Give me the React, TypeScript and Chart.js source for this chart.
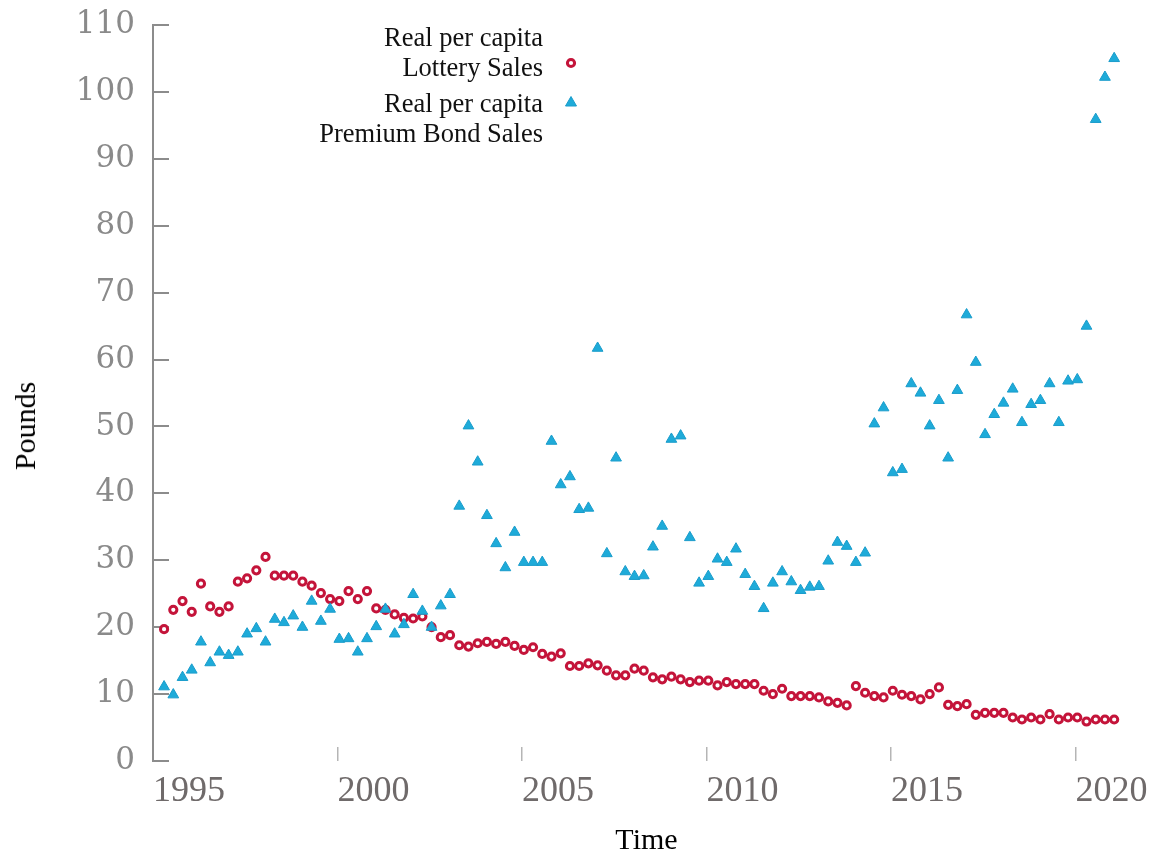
import React, { useEffect, useRef } from "react";
import { Chart, registerables } from "chart.js";

Chart.register(...registerables);

// Time axis: quarterly observations
const FIRST_QUARTER = 1995.3;
const QUARTER_STEP = 0.25;
const X_MIN = 1995;
const X_MAX = 2021.75;
const YEAR_TICKS = [1995, 2000, 2005, 2010, 2015, 2020];
const Y_TICK_STEP = 10;
const Y_MIN = 0;
const Y_MAX = 110;

// Real per capita Lottery Sales (pounds)
const lotterySales = [
  19.7, 22.6, 23.9, 22.3, 26.5, 23.1, 22.3, 23.1, 26.8, 27.3, 28.5, 30.5, 27.7, 27.7, 27.7, 26.8,
  26.2, 25.1, 24.2, 23.9, 25.4, 24.2, 25.4, 22.8, 22.6, 21.9, 21.4, 21.3, 21.6, 20.0, 18.5, 18.8,
  17.3, 17.1, 17.6, 17.8, 17.5, 17.8, 17.2, 16.6, 17.0, 16.0, 15.6, 16.1, 14.2, 14.2, 14.6, 14.3,
  13.5, 12.8, 12.8, 13.8, 13.5, 12.5, 12.2, 12.6, 12.2, 11.8, 12.0, 12.0, 11.3, 11.8, 11.5, 11.5,
  11.5, 10.5, 10.0, 10.8, 9.7, 9.7, 9.7, 9.5, 8.9, 8.7, 8.3, 11.2, 10.2, 9.7, 9.5, 10.5,
  9.9, 9.7, 9.2, 10.0, 11.0, 8.4, 8.2, 8.5, 6.9, 7.2, 7.2, 7.2, 6.5, 6.2, 6.5, 6.2,
  7.0, 6.2, 6.5, 6.5, 5.9, 6.2, 6.2, 6.2,
];

// Real per capita Premium Bond Sales (pounds)
const premiumBondSales = [
  11.1, 9.9, 12.5, 13.6, 17.8, 14.7, 16.3, 15.8, 16.3, 19.0, 19.8, 17.8, 21.2, 20.7, 21.7, 20.0,
  23.9, 20.9, 22.7, 18.2, 18.3, 16.3, 18.3, 20.1, 22.7, 19.0, 20.4, 24.9, 22.4, 20.0, 23.2, 24.9,
  38.1, 50.1, 44.7, 36.7, 32.5, 28.9, 34.2, 29.7, 29.7, 29.7, 47.8, 41.3, 42.5, 37.6, 37.8, 61.7,
  31.0, 45.3, 28.3, 27.6, 27.7, 32.0, 35.1, 48.1, 48.6, 33.4, 26.6, 27.6, 30.2, 29.7, 31.7, 27.9,
  26.1, 22.8, 26.6, 28.3, 26.8, 25.5, 26.0, 26.1, 29.9, 32.7, 32.1, 29.7, 31.1, 50.4, 52.8, 43.1,
  43.6, 56.4, 55.0, 50.1, 53.9, 45.3, 55.4, 66.7, 59.6, 48.8, 51.8, 53.5, 55.6, 50.6, 53.3, 53.9,
  56.4, 50.6, 56.8, 57.0, 65.0, 95.9, 102.2, 105.0,
];

const LOTTERY_LABEL = ["Real per capita", "Lottery Sales"];
const BOND_LABEL = ["Real per capita", "Premium Bond Sales"];
const X_TITLE = "Time";
const Y_TITLE = "Pounds";

const RED = "#c4143a";
const BLUE = "#1eabd9";
const BLUE_EDGE = "#1a9ccb";

const quarterTimes = lotterySales.map((_, i) => FIRST_QUARTER + i * QUARTER_STEP);

export default function App() {
  const canvasRef = useRef<HTMLCanvasElement | null>(null);

  useEffect(() => {
    const canvas = canvasRef.current;
    if (!canvas) return;
    const chart = new Chart(canvas, {
      type: "scatter",
      data: {
        datasets: [
          {
            label: LOTTERY_LABEL.join(" "),
            data: lotterySales.map((v, i) => ({ x: quarterTimes[i], y: v })),
            pointStyle: "circle",
            pointRadius: 3.6,
            pointBorderWidth: 3,
            borderColor: RED,
            backgroundColor: "#ffffff",
            pointBorderColor: RED,
            pointBackgroundColor: "#ffffff",
            order: 2,
          },
          {
            label: BOND_LABEL.join(" "),
            data: premiumBondSales.map((v, i) => ({ x: quarterTimes[i], y: v })),
            pointStyle: "triangle",
            pointRadius: 6.2,
            pointBorderWidth: 1,
            borderColor: BLUE_EDGE,
            backgroundColor: BLUE,
            pointBorderColor: BLUE_EDGE,
            pointBackgroundColor: BLUE,
            order: 1,
          },
        ],
      },
      options: {
        responsive: false,
        animation: false,
        events: [],
        layout: {
          autoPadding: false,
          padding: { left: 0, top: 25, right: 20, bottom: 0 },
        },
        plugins: {
          legend: { display: false },
          tooltip: { enabled: false },
          title: { display: false },
        },
        scales: {
          x: {
            type: "linear",
            min: X_MIN,
            max: X_MAX,
            afterBuildTicks: (scale: any) => {
              scale.ticks = YEAR_TICKS.map((v) => ({ value: v }));
            },
            afterFit: (scale: any) => {
              scale.height = 94;
              scale.paddingLeft = 0;
              scale.paddingRight = 0;
            },
            border: { display: false },
            grid: {
              display: true,
              drawOnChartArea: false,
              drawTicks: true,
              tickLength: -14,
              color: "#b5b5b5",
              lineWidth: 1.5,
            },
            ticks: {
              align: "start",
              padding: 23,
              autoSkip: false,
              maxRotation: 0,
              color: "#6f6a6a",
              font: { family: "'Liberation Serif', 'Times New Roman', serif", size: 36 },
              callback: (v: any) => String(v),
            },
            title: {
              display: true,
              text: X_TITLE,
              color: "#000000",
              font: { family: "'Liberation Serif', 'Times New Roman', serif", size: 30 },
              padding: { top: 0, bottom: -4 },
            },
          },
          y: {
            type: "linear",
            min: Y_MIN,
            max: Y_MAX,
            afterFit: (scale: any) => {
              scale.width = 153;
              scale.paddingTop = 0;
              scale.paddingBottom = 0;
            },
            border: { display: true, color: "#8c8c8c", width: 2 },
            grid: {
              display: true,
              drawOnChartArea: false,
              drawTicks: true,
              tickLength: -16,
              color: "#8c8c8c",
              lineWidth: 2,
            },
            ticks: {
              stepSize: Y_TICK_STEP,
              padding: 34,
              color: "#8a8a8a",
              font: { family: "'DejaVu Serif', serif", size: 31 },
            },
            title: { display: false },
          },
        },
      },
    });
    return () => chart.destroy();
  }, []);

  const legendFont: React.CSSProperties = {
    position: "absolute",
    right: 1160 - 543,
    fontFamily: "'Liberation Serif', 'Times New Roman', serif",
    fontSize: 26.5,
    lineHeight: "26px",
    color: "#111111",
    whiteSpace: "nowrap",
    textAlign: "right",
  };

  return (
    <div style={{ position: "absolute", left: 0, top: 0, width: 1160, height: 855, background: "#ffffff" }}>
      <canvas ref={canvasRef} width={1160} height={855} style={{ width: 1160, height: 855, display: "block" }} />
      <div
        style={{
          position: "absolute",
          left: 25,
          top: 426,
          transform: "translate(-50%, -50%) rotate(-90deg)",
          fontFamily: "'Liberation Serif', 'Times New Roman', serif",
          fontSize: 30,
          color: "#000000",
          whiteSpace: "nowrap",
        }}
      >
        {Y_TITLE}
      </div>
      <div style={{ ...legendFont, top: 24 }}>{LOTTERY_LABEL[0]}</div>
      <div style={{ ...legendFont, top: 54 }}>{LOTTERY_LABEL[1]}</div>
      <div style={{ ...legendFont, top: 90 }}>{BOND_LABEL[0]}</div>
      <div style={{ ...legendFont, top: 120 }}>{BOND_LABEL[1]}</div>
      <svg style={{ position: "absolute", left: 563, top: 55 }} width={16} height={16}>
        <circle cx={8} cy={8} r={3.6} fill="#ffffff" stroke={RED} strokeWidth={3} />
      </svg>
      <svg style={{ position: "absolute", left: 563, top: 94 }} width={16} height={16}>
        <polygon points="8,2.5 13.5,12 2.5,12" fill={BLUE} stroke={BLUE_EDGE} strokeWidth={1} />
      </svg>
    </div>
  );
}
